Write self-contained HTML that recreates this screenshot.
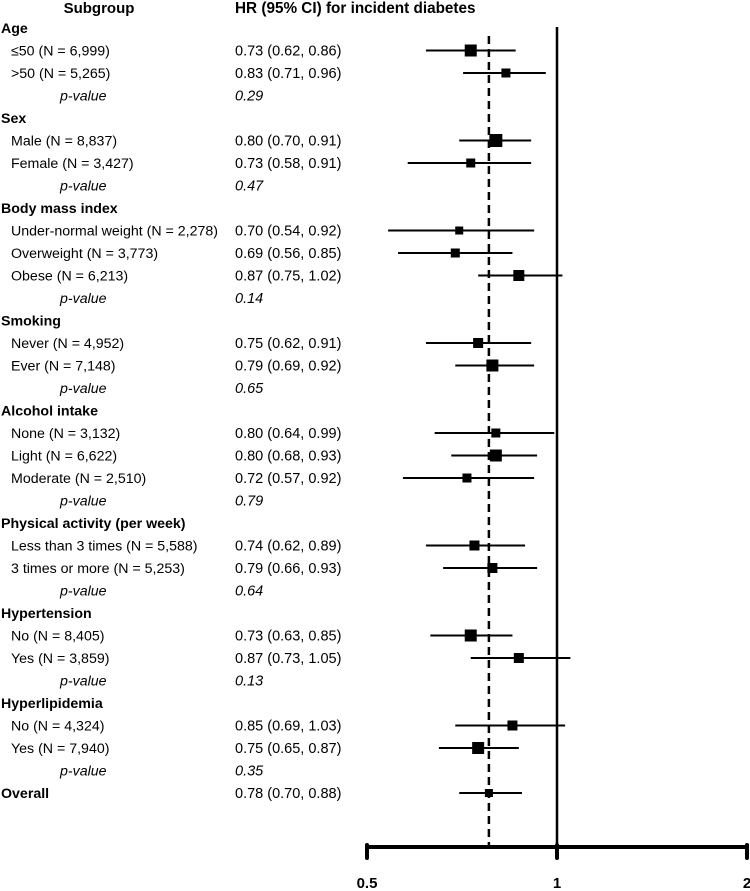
<!DOCTYPE html>
<html><head><meta charset="utf-8"><style>
body{margin:0;background:#fff;width:750px;height:891px;overflow:hidden}
svg{display:block;font-family:"Liberation Sans",Arial,sans-serif}
</style></head><body>
<svg id="chart" width="750" height="891"></svg>
<script>
const labels=["Age","≤50 (N = 6,999)",">50 (N = 5,265)","p-value","Sex","Male (N = 8,837)","Female (N = 3,427)","p-value","Body mass index","Under-normal weight (N = 2,278)","Overweight (N = 3,773)","Obese (N = 6,213)","p-value","Smoking","Never (N = 4,952)","Ever (N = 7,148)","p-value","Alcohol intake","None (N = 3,132)","Light (N = 6,622)","Moderate (N = 2,510)","p-value","Physical activity (per week)","Less than 3 times (N = 5,588)","3 times or more (N = 5,253)","p-value","Hypertension","No (N = 8,405)","Yes (N = 3,859)","p-value","Hyperlipidemia","No (N = 4,324)","Yes (N = 7,940)","p-value","Overall"];
const kinds=["h","i","i","p","h","i","i","p","h","i","i","i","p","h","i","i","p","h","i","i","i","p","h","i","i","p","h","i","i","p","h","i","i","p","o"];
const hr=[null,0.73,0.83,null,null,0.80,0.73,null,null,0.70,0.69,0.87,null,null,0.75,0.79,null,null,0.80,0.80,0.72,null,null,0.74,0.79,null,null,0.73,0.87,null,null,0.85,0.75,null,0.78];
const lo=[null,0.62,0.71,null,null,0.70,0.58,null,null,0.54,0.56,0.75,null,null,0.62,0.69,null,null,0.64,0.68,0.57,null,null,0.62,0.66,null,null,0.63,0.73,null,null,0.69,0.65,null,0.70];
const hi=[null,0.86,0.96,null,null,0.91,0.91,null,null,0.92,0.85,1.02,null,null,0.91,0.92,null,null,0.99,0.93,0.92,null,null,0.89,0.93,null,null,0.85,1.05,null,null,1.03,0.87,null,0.88];
const pvals=[null,null,null,"0.29",null,null,null,"0.47",null,null,null,null,"0.14",null,null,null,"0.65",null,null,null,null,"0.79",null,null,null,"0.64",null,null,null,"0.13",null,null,null,"0.35",null];
const sizes=[0,12,9,0,0,13,9,0,0,8,9,11,0,0,10,12,0,0,9,12,9,0,0,10,10,0,0,12,10,0,0,10,12,0,8];
const ticks=[0.5,1,2];
const overallHR=0.78;
const NS="http://www.w3.org/2000/svg";
const svg=document.getElementById('chart');
const x=v=>367+190*Math.log2(v/0.5);
const y=i=>28+i*22.5;
function mk(t,a,txt){const e=document.createElementNS(NS,t);for(const k in a)e.setAttribute(k,a[k]);if(txt!=null)e.textContent=txt;svg.appendChild(e);return e;}
let e;
e=mk('text',{x:99,y:13,'font-size':15,'font-weight':'bold','text-anchor':'middle'},'Subgroup');


e=mk('text',{x:235,y:13,'font-size':15.3,'font-weight':'bold'},'HR (95% CI) for incident diabetes');


e=mk('line',{x1:x(1),x2:x(1),y1:27,y2:849,stroke:'#000','stroke-width':2.5});


e=mk('line',{x1:x(overallHR),x2:x(overallHR),y1:36,y2:849,stroke:'#000','stroke-width':2.5,'stroke-dasharray':'8,5'});


labels.forEach((l,i)=>{
  const k=kinds[i];const yy=y(i)+5;
  let t;
  if(k==='h'||k==='o'){t=mk('text',{x:1,y:yy,'font-size':14.2,'font-weight':'bold'},l);}
  else if(k==='p'){t=mk('text',{x:60,y:yy,'font-size':14.2,'font-style':'italic'},l);}
  else t=mk('text',{x:11,y:yy,'font-size':14.2},l);
  
  
  if(pvals[i]){t=mk('text',{x:235,y:yy,'font-size':14.5,'font-style':'italic'},pvals[i]);
    
    }
  if(hr[i]!=null){
    t=mk('text',{x:235,y:yy,'font-size':14.5},hr[i].toFixed(2)+' ('+lo[i].toFixed(2)+', '+hi[i].toFixed(2)+')');
    
    
    const ln=mk('line',{x1:x(lo[i]),x2:x(hi[i]),y1:y(i),y2:y(i),stroke:'#000','stroke-width':2});
    
    
    const s=sizes[i];
    const r=mk('rect',{x:x(hr[i])-s/2,y:y(i)-s/2,width:s,height:s,fill:'#000'});
    
    
  }
});
e=mk('line',{x1:x(0.5),x2:x(2),y1:847,y2:847,stroke:'#000','stroke-width':4});


ticks.forEach(tv=>{
  const tk=mk('line',{x1:x(tv),x2:x(tv),y1:845,y2:858,stroke:'#000','stroke-width':4,'stroke-linecap':'round'});
  
  
  const tl=mk('text',{x:x(tv),y:888,'font-size':15,'font-weight':'bold','text-anchor':'middle'},String(tv));
  
  
});
</script>
</body></html>
